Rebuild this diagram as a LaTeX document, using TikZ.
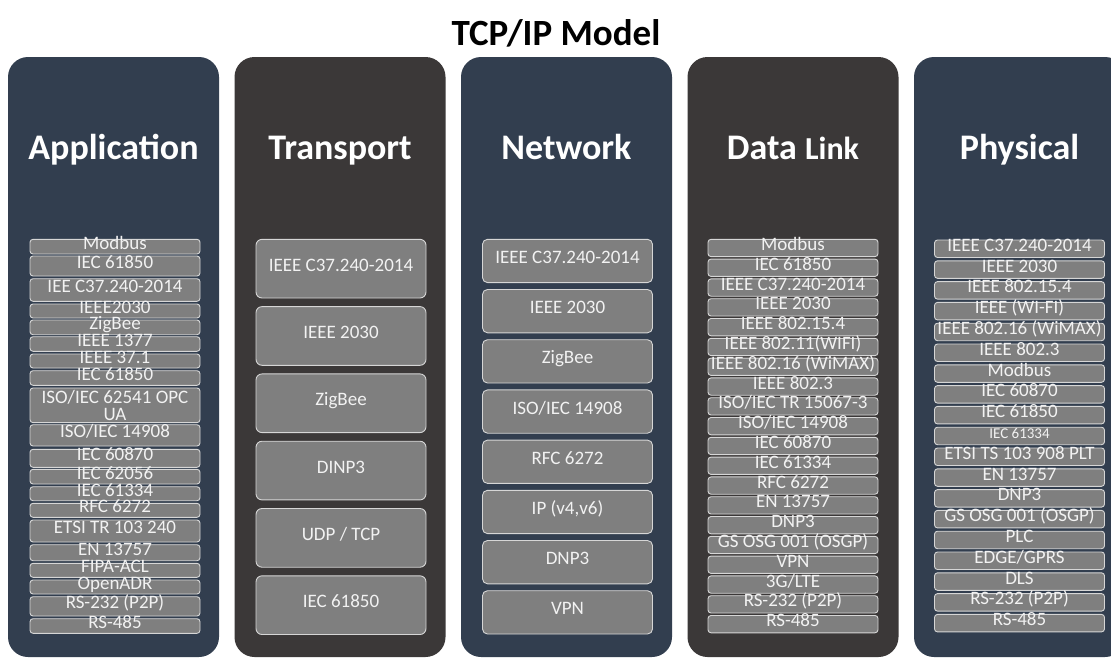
\documentclass[tikz,border=0pt]{standalone}
\usepackage{fontspec}
\setmainfont{Carlito}
\usetikzlibrary{positioning}

\begin{document}
\begin{tikzpicture}[x=1pt, y=-1pt,
    inner sep=0pt, outer sep=0pt,
    panel/.style={fill=#1, rounded corners=20pt, minimum width=211pt, minimum height=600pt},
    layer/.style={text=white, font=\fontsize{36}{36}\selectfont\bfseries, anchor=base},
    proto/.style={draw=boxline, fill=boxgray, rounded corners=3pt, line width=0.9pt,
        text=boxtext, font=\fontsize{19}{19}\selectfont, minimum width=170pt,
        text height=0.62em, text depth=0.12em},
]
    % Colors
    \definecolor{navy}{HTML}{323E4F}
    \definecolor{darkbrown}{HTML}{3B3838}
    \definecolor{boxgray}{HTML}{7F7F7F}
    \definecolor{boxline}{HTML}{D6D6D6}
    \definecolor{boxtext}{HTML}{F2F2F2}

    \useasboundingbox[fill=white] (0,0) rectangle (1111,657);

    % Title
    \node[font=\fontsize{37}{37}\selectfont\bfseries, anchor=base] (title) at (556,45) {TCP/IP Model};

    % Layer panels
    \node[panel=navy]      (app)  at (113.5,357) {};
    \node[panel=darkbrown] (trn)  at (340,357)   {};
    \node[panel=navy]      (net)  at (566.5,357) {};
    \node[panel=darkbrown] (dlk)  at (793,357)   {};
    \node[panel=navy]      (phy)  at (1019.5,357) {};

    \node[layer] (app-t) at (113.5,159) {Application};
    \node[layer] (trn-t) at (340,159)   {Transport};
    \node[layer] (net-t) at (566.5,159) {Network};
    \node[layer] (dlk-t) at (793,159)   {Data {\fontsize{32}{32}\selectfont Link}};
    \node[layer] (phy-t) at (1019.5,159) {Physical};

    % Application protocols
    \foreach \ya/\yb/\txt [count=\i] in {239.3/254/Modbus, 256/276/IEC 61850,
        278.7/301.3/IEE C37.240-2014, 304/318/IEEE2030, 320/334.7/ZigBee,
        336.7/351.3/IEEE 1377, 354/368/IEEE 37.1, 370.7/385.3/IEC 61850,
        424.7/446/{ISO/IEC 14908}, 449.3/467.3/IEC 60870, 469.3/484/IEC 62056,
        486.7/500.7/IEC 61334, 503.3/517.3/RFC 6272, 520/542/ETSI TR 103 240,
        544.7/560.7/EN 13757, 563.3/577.3/FIPA-ACL, 580/594/OpenADR,
        596.7/616/RS-232 (P2P), 618.7/633.3/RS-485}
        \node[proto, minimum height={\yb-\ya}] (app\i) at (115,{(\ya+\yb)/2}) {\txt};
    \node[proto, minimum height=34.7pt, text height=, text depth=, align=center,
        font=\fontsize{19}{17}\selectfont] (app-opc) at (115,405.3) {ISO/IEC 62541 OPC\\UA};

    % Transport protocols
    \foreach \txt [count=\i] in {IEEE C37.240-2014, IEEE 2030, ZigBee, DINP3, UDP / TCP, IEC 61850}
        \node[proto, minimum height=58.7pt, rounded corners=6pt] (trn\i) at (341,{268.65+67.3*(\i-1)}) {\txt};

    % Network protocols
    \foreach \txt [count=\i] in {IEEE C37.240-2014, IEEE 2030, ZigBee, ISO/IEC 14908, RFC 6272,
        {IP (v4,v6)}, DNP3, VPN}
        \node[proto, minimum height=43.3pt, rounded corners=5pt] (net\i) at (567.5,{260.95+50.2*(\i-1)}) {\txt};

    % Data link protocols
    \foreach \txt [count=\i] in {Modbus, IEC 61850, IEEE C37.240-2014, IEEE 2030, IEEE 802.15.4,
        IEEE 802.11(WIFI), IEEE 802.16 (WiMAX), IEEE 802.3, ISO/IEC TR 15067-3, ISO/IEC 14908,
        IEC 60870, IEC 61334, RFC 6272, EN 13757, DNP3, GS OSG 001 (OSGP), VPN, 3G/LTE,
        RS-232 (P2P), RS-485}
        \node[proto, minimum height=17.3pt] (dlk\i) at (793,{247.95+19.8*(\i-1)}) {\txt};

    % Physical protocols
    \foreach \txt [count=\i] in {IEEE C37.240-2014, IEEE 2030, IEEE 802.15.4, IEEE (WI-FI),
        IEEE 802.16 (WiMAX), IEEE 802.3, Modbus, IEC 60870, IEC 61850,
        {\fontsize{15}{15}\selectfont IEC 61334}, ETSI TS 103 908 PLT, EN 13757, DNP3,
        GS OSG 001 (OSGP), PLC, EDGE/GPRS, DLS, RS-232 (P2P), RS-485}
        \node[proto, minimum height=17.5pt] (phy\i) at (1019.5,{248.75+20.8*(\i-1)}) {\txt};
\end{tikzpicture}
\end{document}
